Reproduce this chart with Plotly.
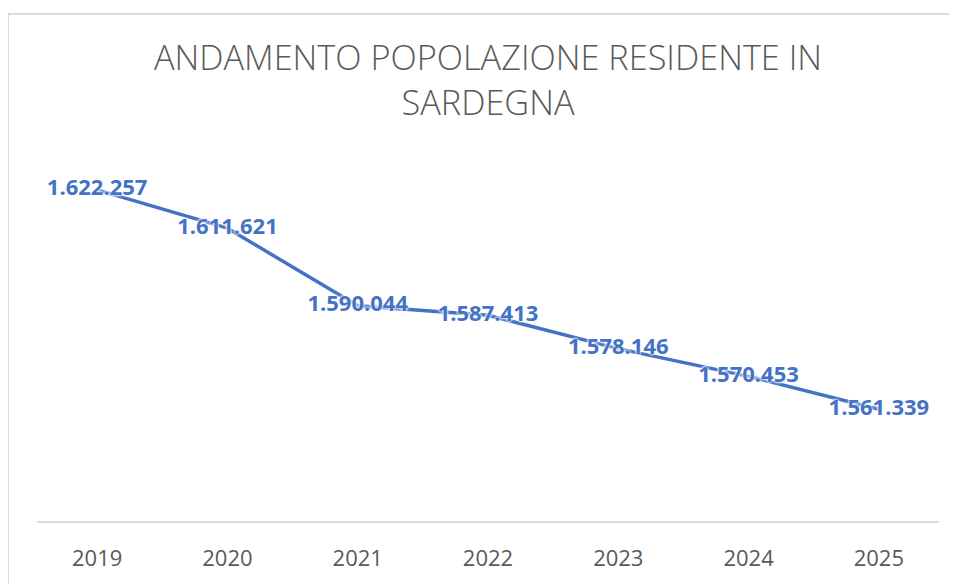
import plotly.graph_objects as go

years = ["2019", "2020", "2021", "2022", "2023", "2024", "2025"]
population = [1622257, 1611621, 1590044, 1587413, 1578146, 1570453, 1561339]
labels = [f"{v:,}".replace(",", ".") for v in population]

# page has an 8px body margin; work in figure pixel coordinates
OFF = 8
W, H = 957 - OFF, 584 - OFF
L, R = 32 - OFF, W - (944 - OFF)
T, B = 126 - OFF, H - (522 - OFF)
pw, ph = W - L - R, H - T - B

def px_x(p):
    return (p - OFF - L) / pw

def px_y(p):
    return (H - B - (p - OFF)) / ph

fig = go.Figure()
fig.add_trace(go.Scatter(
    x=years, y=population, mode="lines+text", text=labels,
    textposition="middle center",
    line=dict(color="#4472C4", width=3.5),
    textfont=dict(family="Open Sans", size=22, color="#4472C4", weight="bold",
                  shadow="0 0 3px white, 0 0 3px white, 0 0 2px white"),
    cliponaxis=False, hoverinfo="skip",
))

fig.update_layout(
    width=W, height=H,
    margin=dict(l=L, r=R, t=T, b=B),
    paper_bgcolor="white", plot_bgcolor="white",
    showlegend=False,
    title=dict(
        text="ANDAMENTO POPOLAZIONE RESIDENTE IN<br>SARDEGNA",
        x=0.5, xref="paper", xanchor="center",
        y=1 - 62 / H, yref="container", yanchor="top",
        font=dict(family="Open Sans", size=34.3, color="#595959", weight=300),
    ),
    xaxis=dict(
        type="category", range=[-0.5, 6.5], showgrid=False, zeroline=False,
        showline=False, ticks="", ticklabelstandoff=21,
        tickfont=dict(family="Open Sans", size=22, color="#595959"),
    ),
    yaxis=dict(range=[1530000, 1640000], visible=False, showgrid=False),
    shapes=[
        dict(type="line", xref="paper", yref="paper",
             x0=px_x(37), x1=px_x(939), y0=0, y1=0,
             line=dict(color="#D9D9D9", width=2)),
        dict(type="rect", xref="paper", yref="paper",
             x0=px_x(8), x1=px_x(990), y0=px_y(620), y1=px_y(14),
             line=dict(color="#D9D9D9", width=2), fillcolor="rgba(0,0,0,0)",
             layer="below"),
    ],
)

fig.write_html("out.html")
